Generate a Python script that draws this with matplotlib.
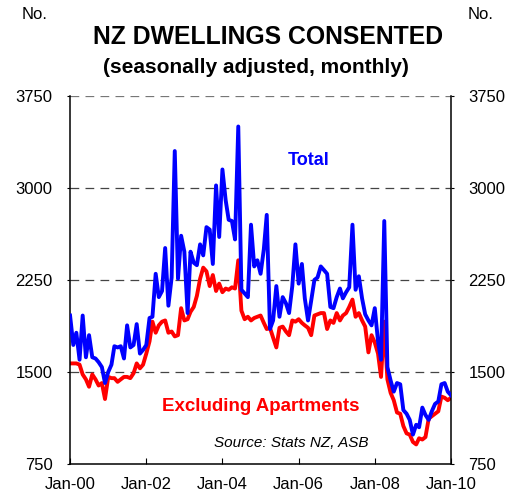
import numpy as np
import pandas as pd
import matplotlib
matplotlib.use("Agg")
import matplotlib.pyplot as plt
import matplotlib.dates as mdates

plt.rcParams['font.family'] = ['Liberation Sans', 'DejaVu Sans']

# monthly consents, Jan-00 .. Jan-10
total = [1960, 1720, 1820, 1600, 1960, 1620, 1800, 1620, 1610, 1580,
         1540, 1410, 1500, 1560, 1710, 1700, 1710, 1610, 1880, 1700,
         1720, 1890, 1650, 1680, 1720, 1940, 1950, 2300, 2110, 2160,
         2510, 2040, 2270, 3300, 2260, 2610, 2480, 1980, 2480, 2390,
         2370, 2540, 2450, 2680, 2660, 2380, 3020, 2600, 3150, 2900,
         2740, 2730, 2580, 3500, 2170, 2140, 2110, 2700, 2360, 2410,
         2300, 2500, 2780, 1850, 1920, 2200, 1950, 2110, 2060, 1980,
         2200, 2540, 2220, 2380, 2100, 1920, 2080, 2250, 2270, 2360,
         2330, 2300, 2030, 2020, 2110, 2180, 2100, 2150, 2190, 2700,
         2170, 2280, 2100, 1970, 1920, 1880, 2020, 1750, 1600, 2730,
         1540, 1430, 1340, 1410, 1400, 1190, 1160, 1110, 990, 1070,
         1050, 1210, 1150, 1110, 1180, 1240, 1260, 1400, 1410, 1340,
         1310]

ex_apts = [1570, 1570, 1570, 1560, 1480, 1440, 1380, 1480, 1440, 1390,
           1410, 1280, 1460, 1450, 1450, 1420, 1440, 1460, 1460, 1450,
           1490, 1570, 1530, 1560, 1650, 1750, 1910, 1820, 1880, 1910,
           1920, 1820, 1830, 1790, 1800, 2020, 1920, 1930, 1990, 2030,
           2120, 2260, 2350, 2320, 2200, 2290, 2160, 2220, 2150, 2180,
           2170, 2190, 2180, 2410, 2000, 1930, 1950, 1920, 1940, 1950,
           1960, 1900, 1850, 1860, 1780, 1700, 1860, 1870, 1830, 1800,
           1920, 1910, 1930, 1900, 1880, 1860, 1800, 1960, 1970, 1980,
           1980, 1850, 1920, 1900, 1980, 1920, 1960, 1980, 2030, 2090,
           1950, 1980, 1920, 1870, 1660, 1800, 1740, 1650, 1460, 1910,
           1440, 1330, 1270, 1170, 1160, 1060, 1000, 990, 930, 910,
           960, 950, 970, 1120, 1140, 1160, 1180, 1300, 1290, 1270,
           1290]

yticks = [750, 1500, 2250, 3000, 3750]
dates = pd.date_range("2000-01-01", periods=len(total), freq="MS")
xticks = pd.date_range("2000-01-01", "2010-01-01", freq="24MS")

fig = plt.figure(figsize=(5.19, 4.99), dpi=100)
ax = fig.add_axes([0.135, 0.070, 0.734, 0.738])

for y in yticks[1:]:
    ax.axhline(y, color='#444444' if y < 3750 else '#777777', lw=0.9,
               dashes=(7, 5), zorder=1)

ax.plot(dates, total, color='#0000ff', lw=2.8, zorder=3)
ax.plot(dates, ex_apts, color='#ff0000', lw=2.8, zorder=2)

ax.set_xlim(dates[0], pd.Timestamp("2010-01-01"))
ax.set_ylim(750, 3750)
ax.set_yticks(yticks)
ax.set_xticks(xticks)
ax.xaxis.set_major_formatter(mdates.DateFormatter("%b-%y"))

ax.spines['top'].set_visible(False)
for s in ['left', 'right', 'bottom']:
    ax.spines[s].set_linewidth(1.1)

ax.tick_params(axis='x', direction='in', length=4.5, width=0.8, pad=9,
               labelsize=12)
ax.tick_params(axis='y', direction='out', length=2.5, width=0.8, pad=10,
               labelsize=12, left=True, right=True, labelleft=True,
               labelright=True)

ax.text(0.625, 0.825, "Total", transform=ax.transAxes, color='#0000ff',
        fontsize=13, fontweight='bold', ha='center', va='center')
ax.text(0.50, 0.155, "Excluding Apartments", transform=ax.transAxes,
        color='#ff0000', fontsize=13.5, fontweight='bold', ha='center',
        va='center')
ax.text(0.58, 0.058, "Source: Stats NZ, ASB", transform=ax.transAxes,
        fontsize=11, style='italic', ha='center', va='center')

fig.text(0.516, 0.926, "NZ DWELLINGS CONSENTED", fontsize=17.8,
         fontweight='bold', ha='center', va='center')
fig.text(0.493, 0.864, "(seasonally adjusted, monthly)", fontsize=15,
         fontweight='bold', ha='center', va='center')
fig.text(0.067, 0.970, "No.", fontsize=12, ha='center', va='center')
fig.text(0.925, 0.970, "No.", fontsize=12, ha='center', va='center')

fig.savefig("out.png", dpi=100)
